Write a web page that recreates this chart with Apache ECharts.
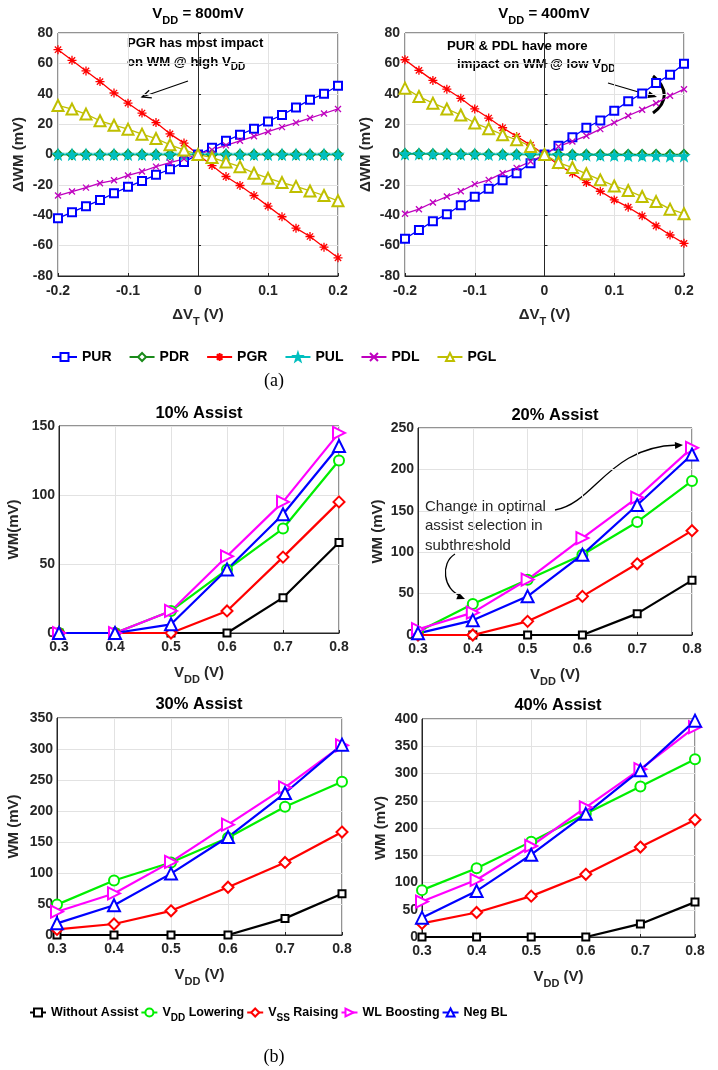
<!DOCTYPE html>
<html>
<head>
<meta charset="utf-8">
<script src="https://cdn.jsdelivr.net/npm/echarts@6/dist/echarts.min.js"></script>
<style>
  html, body { margin: 0; padding: 0; background: #fff; }
  #chart { width: 718px; height: 1070px; }
</style>
</head>
<body>
<div id="chart"></div>
<script>
// ---------- data ----------
const dVt = [-0.2, -0.18, -0.16, -0.14, -0.12, -0.1, -0.08, -0.06, -0.04, -0.02, 0,
             0.02, 0.04, 0.06, 0.08, 0.1, 0.12, 0.14, 0.16, 0.18, 0.2];

// VDD = 800mV
const pur800 = [-42, -38, -34, -30, -25.5, -21.3, -17.4, -13.4, -9.7, -5, 0, 4.4, 9, 13, 17, 21.8, 26, 31, 36, 40, 45.3];
const pdr800 = [0, 0, 0, 0, 0, 0, 0, 0, 0, 0, 0, 0, 0, 0, 0, 0, 0, 0, 0, 0, 0];
const pgr800 = [69, 62, 55, 48, 40.5, 33.8, 27.3, 21, 13.6, 7.5, 0, -7.3, -14.5, -20.4, -27, -34, -41, -48.5, -54, -61, -68];
const pul800 = [0, 0, 0, 0, 0, 0, 0, 0, 0, 0, 0, 0, 0, 0, 0, 0, 0, 0, 0, 0, 0];
const pdl800 = [-27, -24.4, -21.8, -18.9, -17, -13.8, -11.2, -8, -5.3, -2.8, 0, 3, 6, 9, 12, 15, 18, 21, 24, 27, 30];
const pgl800 = [32.3, 29.9, 26.6, 22.2, 19.3, 16.7, 13.4, 10.5, 6.4, 3, 0, -2, -5, -8, -12.3, -15.6, -18.5, -21, -24, -27, -30.5];

// VDD = 400mV
const pur400 = [-55.4, -49.7, -44, -39.3, -33.4, -27.9, -22.6, -16.9, -12.3, -5.7, 0, 5.7, 11.4, 17.6, 22.4, 28.8, 35, 40.2, 47, 52.5, 59.8];
const pdr400 = [0.5, 0.5, 0.4, 0.3, 0.3, 0.2, 0.2, 0.1, 0.1, 0, 0, 0, 0, 0, 0, 0, 0, 0, 0, 0, 0];
const pgr400 = [62.4, 55.4, 48.8, 43, 37, 30, 24, 17.6, 11.9, 6.2, 0, -6.8, -12.3, -18.5, -24.2, -29.9, -34.7, -40.4, -47, -53, -58.5];
const pul400 = [0.3, 0.3, 0.2, 0.2, 0.1, 0.1, 0, 0, 0, 0, 0, -0.2, -0.3, -0.4, -0.5, -0.6, -0.7, -0.8, -0.9, -1, -1];
const pdl400 = [-39, -36, -31.6, -27.7, -24.2, -19.5, -16.7, -12.3, -8.8, -4.6, 0, 5.3, 8.6, 12.3, 16.7, 21, 25.5, 29.5, 33.8, 38.7, 43];
const pgl400 = [43.7, 38.2, 33.8, 30, 26, 20.7, 17, 13, 9.7, 5.3, 0, -5.3, -8.6, -12.7, -16.7, -20.7, -23.7, -27.7, -31, -36, -39];

// assist sweeps
const vdd = ['0.3', '0.4', '0.5', '0.6', '0.7', '0.8'];

const noAssist10 = [0, 0, 0, 0, 25.6, 65.6];
const vddLow10   = [0, 0, 16, 46, 75.7, 125];
const vssRise10  = [0, 0, 0, 16, 55, 95];
const wlBoost10  = [0, 0, 16, 55.6, 95, 145];
const negBL10    = [0, 0, 6.3, 46, 86, 135.5];

const noAssist20 = [0, 0, 0, 0, 25.8, 66];
const vddLow20   = [4, 37.4, 66.8, 97, 136.5, 186];
const vssRise20  = [0, 0, 16.5, 46.7, 86, 126];
const wlBoost20  = [7, 27, 67, 117, 166, 226];
const negBL20    = [2, 17.7, 46.7, 97, 157, 218];

const noAssist30 = [0, 0, 0, 0, 26.8, 66.6];
const vddLow30   = [49, 88, 117, 157, 207, 247];
const vssRise30  = [9, 17.7, 39, 77, 117, 166];
const wlBoost30  = [37.6, 67, 118, 178, 238, 306];
const negBL30    = [18.8, 48, 99, 158, 229, 307];

const noAssist40 = [0, 0, 0, 0, 24, 64];
const vddLow40   = [86, 126, 175, 226, 276, 326];
const vssRise40  = [25, 45, 75, 115, 165, 215];
const wlBoost40  = [65, 105, 167, 238, 308, 385];
const negBL40    = [35.5, 84.5, 151, 226, 306, 397];

const topNames = ['PUR', 'PDR', 'PGR', 'PUL', 'PDL', 'PGL'];
const assistNames = ['Without Assist', 'VDD Lowering', 'VSS Raising', 'WL Boosting', 'Neg BL'];

// ---------- styles ----------
const FONT = 'Liberation Sans';
const TXT = '#262626';
const starPath = 'path://M0,-10L2.35,-3.24L9.51,-3.09L3.8,1.24L5.88,8.09L0,4L-5.88,8.09L-3.8,1.24L-9.51,-3.09L-2.35,-3.24Z';
const astPath = 'path://M0,-10L0,10M-10,0L10,0M-7,-7L7,7M-7,7L7,-7';
const xPath = 'path://M-1,-1L1,1M-1,1L1,-1';

const topStyle = {
  PUR: { color: '#0000ff', symbol: 'emptyRect', symbolSize: 8 },
  PDR: { color: '#1a8a1a', symbol: 'emptyDiamond', symbolSize: 9 },
  PGR: { color: '#ff0000', symbol: astPath, symbolSize: 9 },
  PUL: { color: '#00bfbf', symbol: starPath, symbolSize: 10 },
  PDL: { color: '#bf00bf', symbol: xPath, symbolSize: 6 },
  PGL: { color: '#bfbf00', symbol: 'emptyTriangle', symbolSize: 11 }
};
const assistStyle = {
  'Without Assist': { color: '#000000', symbol: 'emptyRect', symbolSize: 7 },
  'VDD Lowering': { color: '#00ee00', symbol: 'emptyCircle', symbolSize: 10 },
  'VSS Raising': { color: '#ff0000', symbol: 'emptyDiamond', symbolSize: 11 },
  'WL Boosting': { color: '#ff00ff', symbol: 'emptyTriangle', symbolSize: 12, symbolRotate: -90 },
  'Neg BL': { color: '#0000ff', symbol: 'emptyTriangle', symbolSize: 12 }
};

// plot boxes
const grids = [
  { left: 58, top: 33, width: 280, height: 243 },
  { left: 405, top: 33, width: 279, height: 243 },
  { left: 59, top: 426, width: 280, height: 207 },
  { left: 418, top: 428, width: 274, height: 207 },
  { left: 57, top: 718, width: 285, height: 217 },
  { left: 422, top: 719, width: 273, height: 218 }
];

const sub = {
  n: { fontFamily: FONT, fontWeight: 'bold', fontSize: 15, color: TXT, lineHeight: 24, verticalAlign: 'middle' },
  s: { fontFamily: FONT, fontWeight: 'bold', fontSize: 11, color: TXT, lineHeight: 24, verticalAlign: 'bottom' }
};

const tickLabel = { fontFamily: FONT, fontWeight: 'bold', fontSize: 14, color: TXT };

function xAxisTop(i) {
  return {
    type: 'value', gridIndex: i, min: -0.2, max: 0.2, interval: 0.1,
    axisLine: { onZero: false, lineStyle: { color: TXT } },
    axisTick: { inside: true, length: 3, lineStyle: { color: TXT } },
    axisLabel: Object.assign({ margin: 8, formatter: v => String(+v.toFixed(1)) }, tickLabel),
    splitLine: { show: true, lineStyle: { color: '#e2e2e2' } },
    name: '{n|\u0394V}{s|T}{n| (V)}', nameLocation: 'middle', nameGap: 27,
    nameTextStyle: { rich: sub }
  };
}
function yAxisTop(i) {
  return {
    type: 'value', gridIndex: i, min: -80, max: 80, interval: 20,
    axisLine: { show: true, lineStyle: { color: TXT } },
    axisTick: { inside: true, length: 3, lineStyle: { color: TXT } },
    axisLabel: Object.assign({ margin: 5 }, tickLabel),
    splitLine: { show: true, lineStyle: { color: '#e2e2e2' } },
    name: '\u0394WM (mV)', nameLocation: 'middle', nameGap: 32,
    nameTextStyle: { fontFamily: FONT, fontWeight: 'bold', fontSize: 15, color: TXT }
  };
}
function xAxisBot(i) {
  return {
    type: 'category', gridIndex: i, data: vdd, boundaryGap: false,
    axisLine: { lineStyle: { color: TXT } },
    axisTick: { inside: true, length: 3, lineStyle: { color: TXT } },
    axisLabel: Object.assign({ margin: 7 }, tickLabel),
    splitLine: { show: true, lineStyle: { color: '#e2e2e2' } },
    name: '{n|V}{s|DD}{n| (V)}', nameLocation: 'middle', nameGap: 28,
    nameTextStyle: { rich: sub }
  };
}
function yAxisBot(i, max, label, gap) {
  return {
    type: 'value', gridIndex: i, min: 0, max: max, interval: 50,
    axisLine: { show: true, lineStyle: { color: TXT } },
    axisTick: { inside: true, length: 3, lineStyle: { color: TXT } },
    axisLabel: Object.assign({ margin: 4 }, tickLabel),
    splitLine: { show: true, lineStyle: { color: '#e2e2e2' } },
    name: label, nameLocation: 'middle', nameGap: gap,
    nameTextStyle: { fontFamily: FONT, fontWeight: 'bold', fontSize: 15, color: TXT }
  };
}

function topSeries(name, vals, gi) {
  const st = topStyle[name];
  return {
    type: 'line', name: name, xAxisIndex: gi, yAxisIndex: gi,
    data: dVt.map((x, k) => [x, vals[k]]),
    symbol: st.symbol, symbolSize: st.symbolSize,
    lineStyle: { color: st.color, width: 1.3 },
    itemStyle: { color: st.color, borderColor: st.color, borderWidth: 1.3 },
    showAllSymbol: true, animation: false
  };
}
function assistSeries(name, vals, gi) {
  const st = assistStyle[name];
  return {
    type: 'line', name: name, xAxisIndex: gi, yAxisIndex: gi,
    data: vals,
    symbol: st.symbol, symbolSize: st.symbolSize, symbolRotate: st.symbolRotate || 0,
    lineStyle: { color: st.color, width: 2.2 },
    itemStyle: { color: st.color, borderColor: st.color, borderWidth: 1.8 },
    showAllSymbol: true, animation: false
  };
}

const series = [];
[[pur800, pdr800, pgr800, pul800, pdl800, pgl800], [pur400, pdr400, pgr400, pul400, pdl400, pgl400]]
  .forEach((set, gi) => set.forEach((vals, k) => series.push(topSeries(topNames[k], vals, gi))));
[
  [noAssist10, vddLow10, vssRise10, wlBoost10, negBL10],
  [noAssist20, vddLow20, vssRise20, wlBoost20, negBL20],
  [noAssist30, vddLow30, vssRise30, wlBoost30, negBL30],
  [noAssist40, vddLow40, vssRise40, wlBoost40, negBL40]
].forEach((set, k) => set.forEach((vals, j) => series.push(assistSeries(assistNames[j], vals, k + 2))));

// ---------- annotations ----------
function head(tx, ty, fx, fy, len, half) {
  const dx = tx - fx, dy = ty - fy, d = Math.hypot(dx, dy);
  const ux = dx / d, uy = dy / d;
  const bx = tx - ux * len, by = ty - uy * len;
  return [[bx - uy * half, by + ux * half], [tx, ty], [bx + uy * half, by - ux * half]];
}
function title(x, y, text, rich) {
  return { type: 'text', x: x, y: y, style: { text: text, rich: rich, align: 'center', verticalAlign: 'middle', fill: '#000',
    font: 'bold 16px ' + FONT } };
}
const titleRich = {
  n: { fontFamily: FONT, fontWeight: 'bold', fontSize: 15, fill: '#000', lineHeight: 24, verticalAlign: 'middle' },
  s: { fontFamily: FONT, fontWeight: 'bold', fontSize: 11, fill: '#000', lineHeight: 24, verticalAlign: 'bottom' }
};
const annRich = {
  n: { fontFamily: FONT, fontWeight: 'bold', fontSize: 13.2, fill: '#000', lineHeight: 20, verticalAlign: 'middle' },
  s: { fontFamily: FONT, fontWeight: 'bold', fontSize: 10, fill: '#000', lineHeight: 20, verticalAlign: 'bottom' }
};
const bigTitle = { n: { fontFamily: FONT, fontWeight: 'bold', fontSize: 16.5, fill: '#000' } };

const c1 = [555, 510, 595, 503, 608, 447, 683, 445];
const c2 = [455, 554, 440, 563, 443, 590, 465, 599];

const graphic = [
  title(198, 14, '{n|V}{s|DD}{n| = 800mV}', titleRich),
  title(544, 14, '{n|V}{s|DD}{n| = 400mV}', titleRich),
  title(199, 413, '{n|10% Assist}', bigTitle),
  title(555, 415, '{n|20% Assist}', bigTitle),
  title(199, 704, '{n|30% Assist}', bigTitle),
  title(558, 705, '{n|40% Assist}', bigTitle),
  // top-left note
  { type: 'text', x: 127, y: 43, style: { text: '{n|PGR has most impact}', rich: annRich, verticalAlign: 'middle' } },
  { type: 'text', x: 127, y: 62, style: { text: '{n|on WM @ high V}{s|DD}', rich: annRich, verticalAlign: 'middle' } },
  { type: 'line', shape: { x1: 188, y1: 81, x2: 142, y2: 97 }, style: { stroke: '#000', lineWidth: 1.3 } },
  { type: 'polyline', shape: { points: head(142, 97, 188, 81, 9, 4) }, style: { stroke: '#000', fill: null, lineWidth: 1.3 } },
  // top-right note
  { type: 'text', x: 447, y: 46, style: { text: '{n|PUR & PDL have more}', rich: annRich, verticalAlign: 'middle' } },
  { type: 'text', x: 457, y: 64, style: { text: '{n|impact on WM @ low V}{s|DD}', rich: annRich, verticalAlign: 'middle' } },
  { type: 'line', shape: { x1: 608, y1: 83, x2: 652, y2: 96 }, style: { stroke: '#000', lineWidth: 1.3 } },
  { type: 'polygon', shape: { points: head(657, 97, 608, 83, 9, 3.5) }, style: { fill: '#000' } },
  { type: 'bezierCurve', shape: { x1: 653, y1: 76, cpx1: 668, cpy1: 88, cpx2: 668, cpy2: 102, x2: 653, y2: 113 },
    style: { stroke: '#000', lineWidth: 3, fill: null } },
  // 20% assist note
  { type: 'text', x: 425, y: 526, style: { text: 'Change in optimal\nassist selection in\nsubthreshold',
    font: '15px ' + FONT, fill: TXT, lineHeight: 19.5, verticalAlign: 'middle' } },
  { type: 'bezierCurve', shape: { x1: c1[0], y1: c1[1], cpx1: c1[2], cpy1: c1[3], cpx2: c1[4], cpy2: c1[5], x2: c1[6] - 6, y2: c1[7] },
    style: { stroke: '#000', lineWidth: 1.3, fill: null } },
  { type: 'polygon', shape: { points: head(c1[6], c1[7], c1[4], c1[5] + 2, 8, 3.5) }, style: { fill: '#000' } },
  { type: 'bezierCurve', shape: { x1: c2[0], y1: c2[1], cpx1: c2[2], cpy1: c2[3], cpx2: c2[4], cpy2: c2[5], x2: c2[6] - 4, y2: c2[7] - 3 },
    style: { stroke: '#000', lineWidth: 1.3, fill: null } },
  { type: 'polygon', shape: { points: head(c2[6], c2[7], c2[4], c2[5], 8, 3.5) }, style: { fill: '#000' } },
  // panel captions
  { type: 'text', x: 274, y: 381, style: { text: '(a)', font: '18px "Liberation Serif"', fill: '#000', align: 'center', verticalAlign: 'middle' } },
  { type: 'text', x: 274, y: 1057, style: { text: '(b)', font: '18px "Liberation Serif"', fill: '#000', align: 'center', verticalAlign: 'middle' } }
];

const legendRich = {
  n: { fontFamily: FONT, fontWeight: 'bold', fontSize: 12.5, color: '#000', lineHeight: 22, verticalAlign: 'middle' },
  s: { fontFamily: FONT, fontWeight: 'bold', fontSize: 10, color: '#000', lineHeight: 22, verticalAlign: 'bottom' }
};

const option = {
  backgroundColor: '#fff',
  animation: false,
  grid: grids.map(g => Object.assign({ show: true, borderColor: TXT, borderWidth: 1, backgroundColor: 'transparent',
    outerBoundsMode: 'none', containLabel: false }, g)),
  xAxis: [xAxisTop(0), xAxisTop(1), xAxisBot(2), xAxisBot(3), xAxisBot(4), xAxisBot(5)],
  yAxis: [yAxisTop(0), yAxisTop(1),
    yAxisBot(2, 150, 'WM(mV)', 38), yAxisBot(3, 250, 'WM (mV)', 33),
    yAxisBot(4, 350, 'WM (mV)', 36), yAxisBot(5, 400, 'WM (mV)', 34)],
  legend: [
    {
      data: topNames, left: 46, top: 345, itemWidth: 25, itemHeight: 10, itemGap: 17,
      textStyle: { fontFamily: FONT, fontWeight: 'bold', fontSize: 14, color: '#000' }
    },
    {
      data: assistNames, left: 24, top: 1001, itemWidth: 16, itemHeight: 10, itemGap: 2,
      formatter: name => name === 'VDD Lowering' ? '{n|V}{s|DD}{n| Lowering}'
        : name === 'VSS Raising' ? '{n|V}{s|SS}{n| Raising}' : '{n|' + name + '}',
      textStyle: { rich: legendRich }
    }
  ],
  graphic: graphic,
  series: series
};

const chart = echarts.init(document.getElementById('chart'));
chart.setOption(option);
</script>
</body>
</html>
